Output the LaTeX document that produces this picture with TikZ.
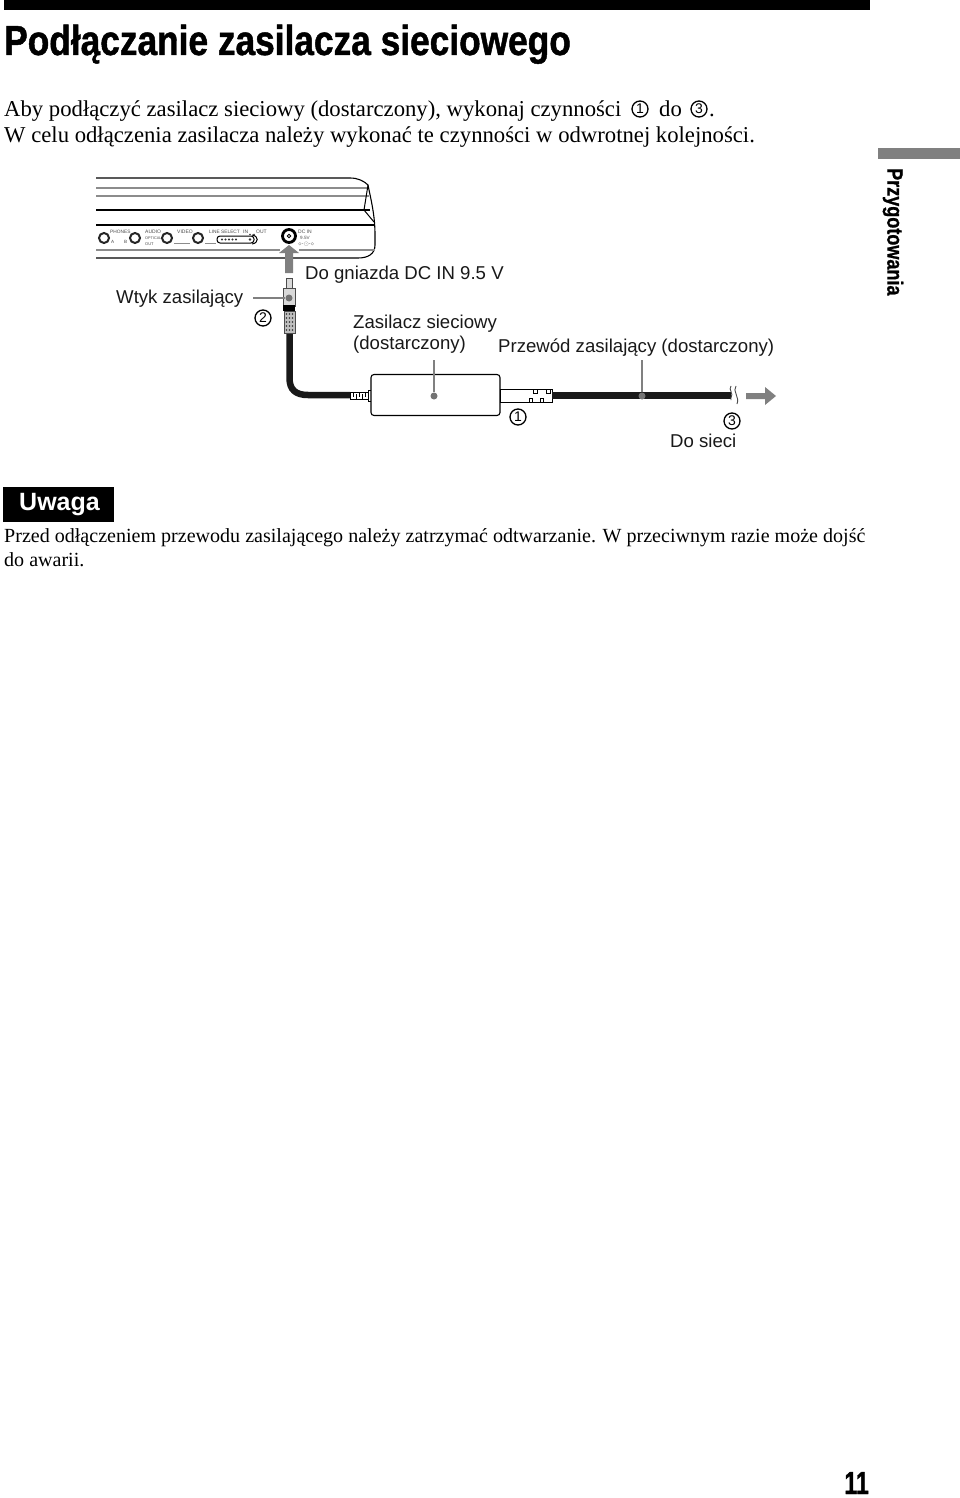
\documentclass[tikz,border=0pt]{standalone}
\usepackage{fontspec}
\setmainfont{Liberation Serif}
\newfontfamily\arial{Liberation Sans}
\newfontfamily\heavy[FakeBold=1.1,FakeStretch=0.84]{Liberation Sans Bold}
\newfontfamily\heavyside[FakeBold=0.8,FakeStretch=0.82]{Liberation Sans Bold}
\newfontfamily\heavypage[FakeBold=1,FakeStretch=0.72]{Liberation Sans Bold}
\newfontfamily\uwagaf{Liberation Sans Bold}
\tikzset{
 bodytext/.style={anchor=base west,inner sep=0,font=\fontsize{22.7}{24}\selectfont},
 notetext/.style={anchor=base west,inner sep=0,font=\fontsize{20.05}{24}\selectfont},
 label/.style={anchor=base west,inner sep=0,font=\arial\fontsize{18.6}{22}\selectfont,text=black!90},
 tiny/.style={anchor=base west,inner sep=0,font=\arial\fontsize{5}{6}\selectfont,text=black!70},
 num/.style={circle,draw=black,line width=1.3pt,inner sep=0,minimum size=16pt,font=\arial\fontsize{14}{15}\selectfont},
 jack/.style={circle,draw=black!85,line width=2pt,inner sep=0,minimum size=10pt},
 pointer/.style={draw=black!50,line width=2pt},
 dot/.style={circle,fill=black!55,inner sep=0,minimum size=7pt},
 grayline/.style={draw=black!45,line width=1.2pt},
 blackline/.style={draw=black,line width=1.3pt},
 cable/.style={draw=black!90,line width=6.5pt},
 outl/.style={draw=black,line width=1pt,fill=white},
 grayarrow/.style={fill=black!50,draw=none},
}
\begin{document}
\begin{tikzpicture}[x=1pt,y=-1pt]
\useasboundingbox[fill=white] (0,0) rectangle (960,1498);
% header
\fill[black] (4,0) rectangle (870,10);
\node[anchor=base west,inner sep=0,font=\heavy\fontsize{42}{44}\selectfont] (title) at (4,55) {Podłączanie zasilacza sieciowego};
% intro
\node[bodytext] (l1) at (4,117) {Aby podłączyć zasilacz sieciowy (dostarczony), wykonaj czynności};
\node[num] (i1) at (640,109) {1};
\node[bodytext] (l1b) at (659,117) {do};
\node[num] (i3) at (699,109) {3};
\node[bodytext] (l1c) at (709,117) {.};
\node[bodytext] (l2) at (4,143) {W celu odłączenia zasilacza należy wykonać te czynności w odwrotnej kolejności.};
% side tab
\fill[black!50] (878,148) rectangle (960,159);
\node[rotate=-90,anchor=west,inner sep=0,font=\heavyside\fontsize{22}{24}\selectfont] (side) at (893,168) {Przygotowania};
% device
\draw[blackline,line width=1.1pt] (96,178) -- (350,178) .. controls (358,178) and (364,181) .. (368,185)
  .. controls (371,200) and (375,215) .. (375,235) -- (375,245) .. controls (375,254) and (368,258) .. (358,258) -- (96,258);
\draw[grayline] (96,188) -- (368,188);
\draw[grayline] (96,196) -- (369,196);
\draw[blackline,line width=1.8pt] (96,210) -- (370,210);
\draw[blackline,line width=2.8pt] (250,210) -- (267,210);
\draw[blackline,line width=2.8pt] (332,210) -- (370,210);
\draw[blackline,line width=1.8pt] (96,225) -- (374,225);
\draw[blackline,line width=1pt] (368,185) -- (364,210) -- (374,222);
\draw[grayline] (96,250) -- (280,250);
\draw[grayline] (299,250) -- (375,250);
\draw[grayline,line width=.8pt] (174,243) -- (190,243);
\draw[grayline,line width=.8pt] (205,243) -- (216,243);
\node[jack] (jA) at (104,238) {};
\node[jack] (jB) at (135,238) {};
\node[jack] (jO) at (167,238) {};
\node[jack] (jV) at (198,238) {};
\node[circle,draw=black,line width=2.8pt,inner sep=0,minimum size=13pt] (dc) at (289,236) {};
\node[circle,draw=black,line width=.8pt,inner sep=0,minimum size=3.5pt] (dcin) at (289,236) {};
\node[tiny,font=\arial\fontsize{4.8}{6}\selectfont] (t1) at (110,233) {PHONES};
\node[tiny,font=\arial\fontsize{4.6}{6}\selectfont] (t2) at (111,243) {A};
\node[tiny,font=\arial\fontsize{4.6}{6}\selectfont] (t3) at (124,243) {B};
\node[tiny] (t4) at (145,233) {AUDIO};
\node[tiny,font=\arial\fontsize{3.8}{5}\selectfont] (t5) at (145,239) {OPTICAL};
\node[tiny,font=\arial\fontsize{4}{5}\selectfont] (t6) at (145,245) {OUT};
\node[tiny] (t7) at (177,233) {VIDEO};
\node[tiny,font=\arial\fontsize{4.8}{6}\selectfont] (t8) at (209,233) {LINE SELECT};
\node[tiny] (t9) at (243,233) {IN};
\node[tiny] (t10) at (256,233) {OUT};
\node[tiny] (t11) at (298,233) {DC IN};
\node[tiny,font=\arial\fontsize{4.6}{6}\selectfont] (t12) at (300,239) {9.5V};
\node[tiny,font=\arial\fontsize{5}{6}\selectfont] (t13) at (298,245) {$\diamond$-$\odot$-$\diamond$};
\draw[draw=black,line width=1pt,rounded corners=3pt] (217,236) rectangle (254,243);
\draw[black,line width=1pt] (252,235) .. controls (259,236) and (259,243) .. (252,244);
\foreach \x in {222,225.5,229,232.5,236} \fill[black!80] (\x,239.5) circle (1.1pt);
\fill[black!80] (250,239.5) circle (1.3pt);
\fill[black!80] (250,234.5) circle (.8pt);
\fill[black!80] (254,234.5) circle (.8pt);
% arrow into jack
\path[grayarrow] (289,245) -- (299,253) -- (293,253) -- (293,273) -- (285,273) -- (285,253) -- (279,253) -- cycle;
% labels
\node[label] (ldc) at (305,279) {Do gniazda DC IN 9.5 V};
\node[label] (lw) at (116,303) {Wtyk zasilający};
\node[label] (lz1) at (353,328) {Zasilacz sieciowy};
\node[label] (lz2) at (353,349) {(dostarczony)};
\node[label] (lp) at (498,352) {Przewód zasilający (dostarczony)};
\node[label] (ls) at (670,447) {Do sieci};
\node[num] (n2) at (263,318) {2};
\node[num] (n1) at (518,417) {1};
\node[num] (n3) at (732,421) {3};
% cable plug to adapter
\coordinate (plugbot) at (289.5,333);
\coordinate (strain) at (350,395);
\draw[cable] (plugbot) -- (289.5,378) .. controls (289.5,390) and (296,395) .. (308,395) -- (strain);
% plug
\draw[draw=black!70,line width=1pt,fill=black!15] (286.5,278) rectangle (292.5,289);
\draw[draw=black!70,line width=1pt,fill=black!15] (283,288) rectangle (295,306);
\fill[black] (283,305) rectangle (295,311);
\draw[draw=black!70,line width=1pt,fill=black!25] (284,311) rectangle (295,333);
\foreach \y in {314,318,322,326,330} {\foreach \x in {286.5,289.5,292.5} \fill[black!80] (\x,\y) circle (.9pt);}
\node[dot] (plugdot) at (289,298) {};
\coordinate (plugptr) at (253,298);
\draw[pointer] (plugptr) -- (plugdot);
% strain relief
\draw[outl] (350,392) rectangle (368,399);
\draw[black,line width=.9pt] (353,392) -- (353,397) (356,399) -- (356,394) (359,392) -- (359,397) (362,399) -- (362,394) (365,392) -- (365,397);
\draw[outl] (368,390) rectangle (371,401);
% adapter
\node[draw=black,line width=1.1pt,fill=white,rounded corners=3pt,inner sep=0,minimum width=129pt,minimum height=41pt] (adapter) at (435.5,395) {};
\node[dot] (addot) at (434,396) {};
\coordinate (adptr) at (434,360);
\draw[pointer] (adptr) -- (addot);
% mains side
\draw[outl,line width=.8pt] (500,389) rectangle (552,402);
\draw[black,line width=.9pt] (533,389) rectangle (537,393);
\draw[black,line width=.9pt] (546,389) rectangle (550,393);
\draw[black,line width=.9pt] (529,398) rectangle (532,402);
\draw[black,line width=.9pt] (540,398) rectangle (543,402);
\coordinate (cordA) at (552,395.5);
\coordinate (cordB) at (731,395.5);
\draw[cable,line width=7.5pt] (cordA) -- (cordB);
\node[dot] (cdot) at (642,396) {};
\coordinate (cptr) at (642,360);
\draw[pointer] (cptr) -- (cdot);
\draw[black!70,line width=.9pt] (731,386) .. controls (728,390) and (734,393) .. (731,398) -- (731,400);
\draw[black!70,line width=.9pt] (736,386) .. controls (732,391) and (740,397) .. (737,404);
\path[grayarrow] (746,393) -- (765,393) -- (765,387) -- (776,396) -- (765,405) -- (765,399) -- (746,399) -- cycle;
% note
\node[fill=black,text=white,inner sep=0,minimum width=111pt,minimum height=35pt,font=\uwagaf\fontsize{25}{26}\selectfont] (uw) at (58.5,504.5) {\hspace{2pt}\raisebox{-3pt}{Uwaga}};
\node[notetext] (n1a) at (4,542) {Przed odłączeniem przewodu zasilającego należy zatrzymać odtwarzanie. W przeciwnym razie może dojść};
\node[notetext] (n2a) at (4,566) {do awarii.};
% page number
\node[anchor=base east,inner sep=0,font=\heavypage\fontsize{32}{34}\selectfont] (pg) at (869,1494) {11};
\end{tikzpicture}
\end{document}
